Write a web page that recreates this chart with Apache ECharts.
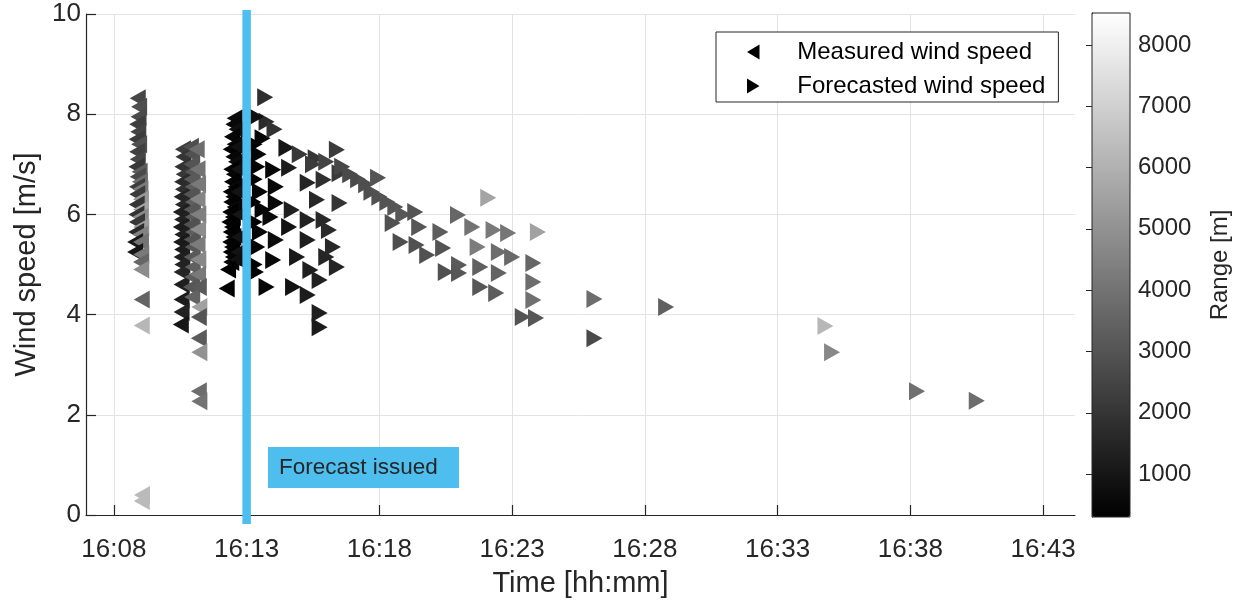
<!DOCTYPE html>
<html>
<head>
<meta charset="utf-8">
<script src="https://cdn.jsdelivr.net/npm/echarts@6/dist/echarts.min.js"></script>
<style>
  html, body { margin: 0; padding: 0; background: #fff; }
  #chart { width: 1241px; height: 604px; }
</style>
</head>
<body>
<div id="chart"></div>
<script>
// Time is given in minutes after 16:00; each point is [time, wind speed (m/s), range (m)].

// Lidar scan around 16:09
const measuredScanA = [
  [8.90, 8.32, 2600], [8.95, 8.15, 2800], [8.93, 7.95, 2700], [8.88, 7.80, 2300],
  [8.92, 7.65, 2500], [8.86, 7.50, 2200], [8.95, 7.40, 2900], [8.88, 7.25, 2400],
  [8.90, 7.10, 2600], [8.85, 6.95, 2100], [8.97, 6.85, 3300], [8.90, 6.75, 2700],
  [8.98, 6.65, 3800], [8.87, 6.55, 2300], [9.00, 6.50, 4300], [8.88, 6.40, 2200],
  [9.02, 6.30, 5200], [8.86, 6.20, 2000], [9.02, 6.10, 5600], [8.85, 6.00, 1900],
  [9.00, 5.95, 4800], [8.87, 5.85, 2100], [9.03, 5.75, 5300], [8.84, 5.65, 1700],
  [9.00, 5.60, 4500], [8.80, 5.45, 1100], [9.02, 5.45, 4000], [8.80, 5.25, 1000],
  [9.03, 5.20, 4200], [9.02, 5.05, 3600], [9.03, 4.90, 4800], [9.05, 4.30, 3500],
  [9.05, 3.78, 6200], [9.06, 0.40, 6300], [9.05, 0.28, 6300]
];

// Lidar scan around 16:11
const measuredScanB = [
  [10.60, 7.30, 2200], [10.62, 7.15, 2000], [10.58, 6.95, 1900], [10.63, 6.80, 2100],
  [10.57, 6.65, 1700], [10.60, 6.50, 1800], [10.55, 6.35, 1500], [10.60, 6.20, 1600],
  [10.52, 6.05, 1300], [10.57, 5.90, 1400], [10.52, 5.75, 1200], [10.58, 5.60, 1300],
  [10.53, 5.45, 1100], [10.57, 5.30, 1200], [10.55, 5.15, 1300], [10.58, 5.00, 1400],
  [10.55, 4.85, 1500], [10.55, 4.60, 1300], [10.55, 4.30, 1200], [10.55, 4.05, 1400],
  [10.52, 3.80, 1000],
  [10.90, 7.35, 2800], [10.95, 7.20, 2900], [10.92, 7.00, 3000], [10.97, 6.85, 3100],
  [10.93, 6.70, 3200], [10.97, 6.55, 3300], [10.92, 6.40, 3000], [10.98, 6.25, 3400],
  [10.93, 6.10, 3100], [10.97, 5.95, 3200], [10.92, 5.80, 2900], [10.98, 5.65, 3300],
  [10.93, 5.50, 3000], [10.97, 5.35, 3100], [10.93, 5.15, 3200], [10.97, 4.95, 3400],
  [10.95, 4.75, 3300], [10.90, 4.55, 3100], [10.95, 4.35, 3500],
  [11.12, 7.30, 3800], [11.15, 6.90, 4000], [11.17, 6.60, 4200], [11.15, 6.30, 4600],
  [11.18, 6.00, 4400], [11.17, 5.70, 4800], [11.15, 5.40, 4300], [11.18, 5.10, 4700],
  [11.17, 4.80, 4200], [11.20, 4.55, 3200], [11.22, 4.15, 5500], [11.20, 3.95, 3000],
  [11.20, 3.53, 3200], [11.22, 3.25, 5000], [11.20, 2.47, 3800], [11.22, 2.27, 4000]
];

// Lidar scan around 16:12:30
const measuredScanC = [
  [12.55, 7.92, 700], [12.50, 7.80, 600], [12.62, 7.70, 800], [12.45, 7.55, 500],
  [12.55, 7.40, 600], [12.40, 7.30, 400], [12.50, 7.15, 500], [12.60, 7.05, 700],
  [12.42, 6.90, 400], [12.52, 6.80, 500], [12.45, 6.65, 400], [12.58, 6.55, 600],
  [12.40, 6.45, 350], [12.50, 6.35, 450], [12.42, 6.25, 400], [12.55, 6.15, 550],
  [12.38, 6.05, 350], [12.48, 5.95, 400], [12.35, 5.85, 300], [12.45, 5.75, 400],
  [12.40, 5.65, 350], [12.50, 5.55, 450], [12.38, 5.45, 350], [12.45, 5.35, 400],
  [12.40, 5.25, 350], [12.48, 5.15, 450], [12.42, 5.05, 400], [12.70, 5.25, 900],
  [12.72, 5.55, 950], [12.75, 6.00, 1000], [12.70, 6.45, 900], [12.72, 6.90, 950],
  [12.68, 7.35, 850], [12.65, 5.10, 800], [12.30, 4.90, 300], [12.25, 4.52, 300]
];

// Forecasts close to the turbine (first minutes after issue)
const forecastNear = [
  [13.70, 8.34, 1800], [13.75, 7.85, 1700], [13.35, 7.95, 800], [13.60, 7.52, 500],
  [13.30, 7.40, 400], [13.45, 7.20, 500], [14.05, 7.70, 1900], [14.50, 7.33, 1000],
  [13.40, 6.95, 400], [14.00, 6.89, 500], [14.60, 6.93, 1200], [13.30, 6.70, 350],
  [14.10, 6.55, 600], [13.50, 6.45, 450], [13.25, 6.25, 300], [14.10, 6.23, 600],
  [13.60, 6.10, 450], [13.90, 5.95, 600], [13.30, 5.85, 350], [14.60, 5.75, 900],
  [13.50, 5.65, 450], [14.10, 5.49, 700], [13.40, 5.35, 400], [14.00, 5.09, 600],
  [13.30, 5.00, 350], [13.75, 4.55, 500], [13.35, 4.85, 400], [14.75, 4.55, 900],
  [14.90, 5.15, 1100], [14.70, 6.09, 1300], [15.30, 6.63, 1500], [15.30, 5.89, 1400],
  [15.30, 5.49, 1300], [15.30, 4.39, 1200], [15.40, 4.89, 1300], [15.60, 7.12, 2000],
  [15.65, 6.29, 1600], [15.75, 4.69, 1400], [15.75, 4.03, 1300], [15.75, 3.75, 1200],
  [15.90, 6.69, 1800], [15.90, 5.89, 1600], [16.00, 5.15, 1500], [16.10, 5.69, 1700],
  [16.25, 5.35, 1600], [16.40, 4.95, 1500], [16.40, 7.29, 2200], [16.50, 6.82, 2200],
  [16.50, 6.23, 2000], [15.00, 7.20, 2100], [15.50, 7.00, 2200]
];

// Forecasts further out in time
const forecastFar = [
  [16.00, 7.05, 2500], [16.60, 6.95, 2600], [16.90, 6.80, 2700], [17.20, 6.70, 2700],
  [17.50, 6.60, 2800], [17.95, 6.73, 3000], [17.70, 6.45, 2800], [18.00, 6.35, 2900],
  [18.30, 6.25, 3000], [18.60, 6.15, 3000], [18.90, 6.00, 3100], [19.35, 6.05, 3000],
  [18.50, 5.83, 2900], [18.80, 5.45, 2800], [19.40, 5.39, 2900], [19.50, 5.75, 3100],
  [19.80, 5.19, 2900], [20.30, 5.65, 3300], [20.40, 5.33, 3000], [20.50, 4.85, 2900],
  [20.96, 5.99, 3600], [21.00, 4.99, 3200], [21.00, 4.83, 3100], [21.50, 5.75, 4000],
  [21.70, 5.35, 4300], [21.80, 4.95, 3400], [21.80, 4.55, 3100], [22.10, 6.33, 5600],
  [22.30, 5.69, 4200], [22.40, 4.43, 3300], [22.50, 5.25, 3800], [22.50, 4.83, 3500],
  [22.85, 5.63, 4100], [23.00, 5.15, 3700], [23.40, 3.95, 3000], [23.80, 5.03, 3600],
  [23.80, 4.65, 3800], [23.80, 4.29, 3900], [23.90, 3.93, 3100], [23.97, 5.65, 5500],
  [26.10, 4.31, 3800], [26.10, 3.53, 2700], [28.80, 4.15, 3400], [34.80, 3.77, 6200],
  [35.05, 3.25, 4700], [38.25, 2.47, 3900], [40.50, 2.28, 3800]
];

const timeTicks = [8, 13, 18, 23, 28, 33, 38, 43];
const rangeTicks = [1000, 2000, 3000, 4000, 5000, 6000, 7000, 8000];
const forecastIssued = 13;          // 16:13
const issueLineSpan = [-0.18, 10.08];
const timeLimits = [6.95, 44.2];
const rangeLimits = [300, 8520];

const FONT = '"Liberation Sans", Arial, Helvetica, sans-serif';
const INK = '#262626';
const SKY = '#4DBEEE';
const LEFT_TRI = 'path://M10,0 L0,6 L10,12 Z';
const RIGHT_TRI = 'path://M0,0 L10,6 L0,12 Z';

const fmtTime = v => '16:' + String(Math.round(v)).padStart(2, '0');

const chart = echarts.init(document.getElementById('chart'), null, { renderer: 'canvas' });

chart.setOption({
  animation: false,
  backgroundColor: '#fff',
  textStyle: { fontFamily: FONT },
  grid: [
    { left: 86, top: 14, width: 989, height: 501, containLabel: false },
    { left: 1092, top: 13, width: 38, height: 504, show: true, borderColor: INK,
      borderWidth: 1, backgroundColor: 'transparent', z: 10 }
  ],
  xAxis: [
    {
      type: 'value', gridIndex: 0, min: timeLimits[0], max: timeLimits[1],
      name: 'Time [hh:mm]', nameLocation: 'middle', nameGap: 54,
      nameTextStyle: { fontSize: 29, color: INK, fontFamily: FONT },
      axisLine: { show: true, onZero: false, lineStyle: { color: INK, width: 1.2 } },
      axisTick: { show: true, inside: true, length: 10, customValues: timeTicks,
                  lineStyle: { color: INK, width: 1.2 } },
      axisLabel: { customValues: timeTicks, formatter: fmtTime, fontSize: 26,
                   color: INK, margin: 22, fontFamily: FONT },
      splitLine: { show: true, lineStyle: { color: '#e3e3e3', width: 1 } }
    },
    { type: 'value', gridIndex: 1, min: 0, max: 1, show: false }
  ],
  yAxis: [
    {
      type: 'value', gridIndex: 0, min: 0, max: 10, interval: 2,
      name: 'Wind speed [m/s]', nameLocation: 'middle', nameGap: 44,
      nameTextStyle: { fontSize: 29, color: INK, fontFamily: FONT },
      axisLine: { show: true, onZero: false, lineStyle: { color: INK, width: 1.2 } },
      axisTick: { show: true, inside: true, length: 10, lineStyle: { color: INK, width: 1.2 } },
      axisLabel: { fontSize: 26, color: INK, margin: 5, fontFamily: FONT },
      splitLine: { show: true, lineStyle: { color: '#e3e3e3', width: 1 } }
    },
    {
      type: 'value', gridIndex: 1, min: rangeLimits[0], max: rangeLimits[1], position: 'right',
      name: 'Range [m]', nameLocation: 'middle', nameGap: 78, nameRotate: 90,
      nameTextStyle: { fontSize: 24, color: INK, fontFamily: FONT },
      axisLine: { show: true, lineStyle: { color: INK, width: 1 } },
      axisTick: { show: true, inside: true, length: 6, customValues: rangeTicks,
                  lineStyle: { color: INK, width: 1 } },
      axisLabel: { customValues: rangeTicks, formatter: v => String(v), fontSize: 24,
                   color: INK, margin: 8, fontFamily: FONT },
      splitLine: { show: false }
    }
  ],
  visualMap: {
    type: 'continuous', min: rangeLimits[0], max: rangeLimits[1], dimension: 2,
    seriesIndex: [0, 1], calculable: false, show: true, padding: 0,
    left: 1092, top: 13, itemWidth: 38, itemHeight: 504, text: null,
    inRange: { color: ['#000000', '#ffffff'] }, hoverLink: false
  },
  legend: {
    orient: 'vertical', left: 716, top: 32,
    padding: [8, 13, 4, 31], itemGap: 10, itemWidth: 20, itemHeight: 15,
    backgroundColor: '#fff', borderColor: INK, borderWidth: 1, borderRadius: 0,
    textStyle: { fontSize: 24, color: '#000', fontFamily: FONT, padding: [0, 0, 0, 29] },
    data: [
      { name: 'Measured wind speed', icon: LEFT_TRI, symbolRotate: 0, itemStyle: { color: '#000' } },
      { name: 'Forecasted wind speed', icon: RIGHT_TRI, symbolRotate: 0, itemStyle: { color: '#000' } }
    ]
  },
  series: [
    {
      name: 'Measured wind speed', type: 'scatter', xAxisIndex: 0, yAxisIndex: 0,
      symbol: 'triangle', symbolRotate: 90, symbolSize: [18, 16],
      itemStyle: { color: '#000', opacity: 1 },
      data: measuredScanA.concat(measuredScanB, measuredScanC)
    },
    {
      name: 'Forecasted wind speed', type: 'scatter', xAxisIndex: 0, yAxisIndex: 0,
      symbol: 'triangle', symbolRotate: -90, symbolSize: [18, 16],
      itemStyle: { color: '#000', opacity: 1 },
      data: forecastNear.concat(forecastFar)
    },
    {
      name: 'Forecast issued', type: 'line', xAxisIndex: 0, yAxisIndex: 0,
      clip: false, symbol: 'none', z: 5, silent: true,
      lineStyle: { color: SKY, width: 8.5 },
      data: [[forecastIssued, issueLineSpan[0]], [forecastIssued, issueLineSpan[1]]]
    }
  ],
  graphic: [
    {
      type: 'rect', left: 268, top: 447, z: 20,
      shape: { width: 191, height: 41 }, style: { fill: SKY }
    },
    {
      type: 'text', left: 279, top: 456, z: 21,
      style: { text: 'Forecast issued', font: '22.5px ' + FONT, fill: INK }
    }
  ]
});
</script>
</body>
</html>
